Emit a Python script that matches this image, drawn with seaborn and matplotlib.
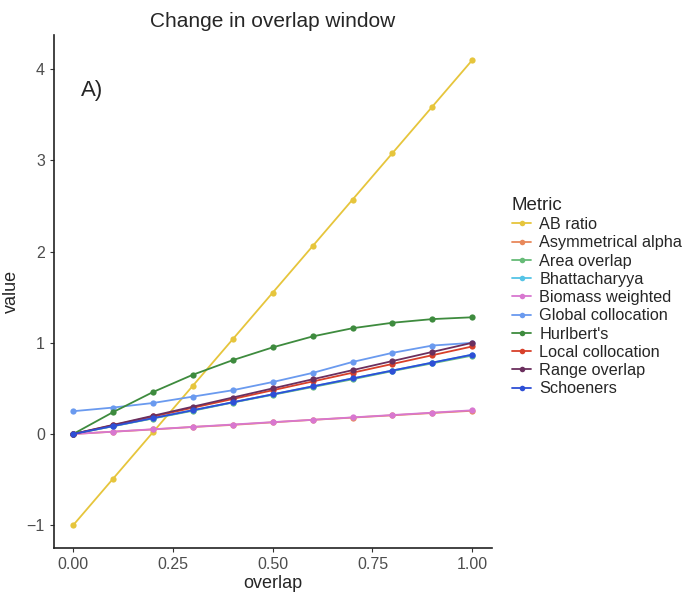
import numpy as np
import pandas as pd
import matplotlib
matplotlib.use("Agg")
import matplotlib.pyplot as plt
import seaborn as sns

overlap = [0.0, 0.1, 0.2, 0.3, 0.4, 0.5, 0.6, 0.7, 0.8, 0.9, 1.0]

metrics = ["AB ratio", "Asymmetrical alpha", "Area overlap", "Bhattacharyya",
           "Biomass weighted", "Global collocation", "Hurlbert's",
           "Local collocation", "Range overlap", "Schoeners"]

ab_ratio = [-1.0, -0.49, 0.02, 0.53, 1.04, 1.55, 2.06, 2.57, 3.08, 3.59, 4.10]
asym_alpha = [0.0, 0.025, 0.05, 0.077, 0.10, 0.128, 0.155, 0.18, 0.205, 0.23, 0.255]
area_overlap = [0.0, 0.085, 0.17, 0.255, 0.345, 0.43, 0.515, 0.60, 0.69, 0.775, 0.86]
bhattacharyya = [0.0, 0.087, 0.174, 0.261, 0.348, 0.435, 0.522, 0.609, 0.696, 0.783, 0.87]
biomass_weighted = [0.0, 0.026, 0.052, 0.078, 0.104, 0.13, 0.156, 0.182, 0.208, 0.234, 0.26]
global_colloc = [0.25, 0.29, 0.34, 0.41, 0.48, 0.57, 0.67, 0.79, 0.89, 0.97, 1.0]
hurlbert = [0.0, 0.24, 0.46, 0.65, 0.81, 0.95, 1.07, 1.16, 1.22, 1.26, 1.28]
local_colloc = [0.0, 0.096, 0.192, 0.288, 0.384, 0.48, 0.576, 0.672, 0.768, 0.864, 0.96]
range_overlap = [0.0, 0.1, 0.2, 0.3, 0.4, 0.5, 0.6, 0.7, 0.8, 0.9, 1.0]
schoeners = [0.0, 0.087, 0.174, 0.261, 0.348, 0.435, 0.522, 0.609, 0.696, 0.783, 0.87]

series = [ab_ratio, asym_alpha, area_overlap, bhattacharyya, biomass_weighted,
          global_colloc, hurlbert, local_colloc, range_overlap, schoeners]

colors = ["#E6C53C", "#E8885A", "#66BB77", "#55C4E6", "#D877D0",
          "#6A9AEF", "#3E8B3E", "#D8402A", "#6B2F5E", "#2E4FD6"]

df = pd.DataFrame({
    "overlap": np.tile(overlap, len(metrics)),
    "value": np.concatenate(series),
    "Metric": np.repeat(metrics, len(overlap)),
})

sns.set_theme(style="ticks")
plt.rcParams["font.family"] = ["Liberation Sans", "DejaVu Sans"]

fig = plt.figure(figsize=(6.9, 5.93), dpi=100)
ax = fig.add_axes([0.0783, 0.0759, 0.635, 0.865])

sns.lineplot(data=df, x="overlap", y="value", hue="Metric", hue_order=metrics,
             palette=colors, marker="o", markersize=4.5, markeredgewidth=0,
             linewidth=1.3, ax=ax)

ax.set_xlim(-0.048, 1.05)
ax.set_ylim(-1.25, 4.375)
ax.set_xticks([0.0, 0.25, 0.5, 0.75, 1.0])
ax.set_xticklabels(["0.00", "0.25", "0.50", "0.75", "1.00"])
ax.set_yticks([-1, 0, 1, 2, 3, 4])
ax.set_yticklabels(["\u22121", "0", "1", "2", "3", "4"])
ax.tick_params(axis="both", labelsize=11.5, labelcolor="#4D4D4D", color="#333333",
               length=3, width=0.8)
for s in ["top", "right"]:
    ax.spines[s].set_visible(False)
for s in ["left", "bottom"]:
    ax.spines[s].set_linewidth(1.2)
    ax.spines[s].set_color("#222222")

ax.set_xlabel("overlap", fontsize=13, labelpad=2)
ax.set_ylabel("value", fontsize=13)
ax.yaxis.set_label_coords(-0.077, 0.5)
ax.set_title("Change in overlap window", fontsize=15, pad=6)

ax.text(0.02, 3.77, "A)", fontsize=16, ha="left", va="center")

leg = ax.legend(title="Metric", loc="center left", bbox_to_anchor=(1.03, 0.49),
                frameon=False, fontsize=11.7, title_fontsize=13.5,
                handlelength=1.2, handletextpad=0.5, labelspacing=0.2,
                borderaxespad=0)
leg._legend_box.align = "left"
for line in leg.get_lines():
    line.set_linewidth(1.3)
    line.set_markersize(4)

fig.savefig("out.png", dpi=100)
